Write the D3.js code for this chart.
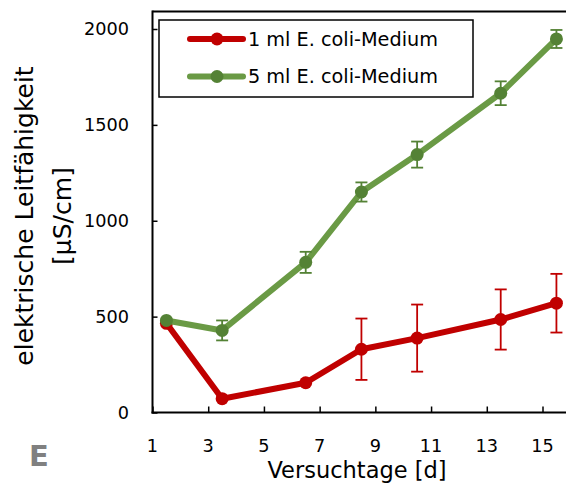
<!DOCTYPE html>
<html>
<head>
<meta charset="utf-8">
<script src="https://cdn.jsdelivr.net/npm/d3@7"></script>
<style>
  body { margin: 0; background: #fff; }
  svg { display: block; font-family: "DejaVu Sans", sans-serif; }
</style>
</head>
<body>
<svg id="chart" width="566" height="488"></svg>
<script>
// Versuchstage (days of measurement)
const days = [1.5, 3.5, 6.5, 8.5, 10.5, 13.5, 15.5];

// electrical conductivity [µS/cm], mean and standard deviation
const ml1Mean = [465, 72, 155, 330, 388, 485, 570];
const ml1Err  = [0, 0, 0, 160, 175, 157, 153];
const ml5Mean = [480, 428, 783, 1150, 1345, 1665, 1948];
const ml5Err  = [0, 52, 55, 50, 68, 62, 47];

const seriesNames = ["1 ml E. coli-Medium", "5 ml E. coli-Medium"];
const xTicks = [1, 3, 5, 7, 9, 11, 13, 15];
const yTicks = [0, 500, 1000, 1500, 2000];

const series = [
  { name: seriesNames[0], mean: ml1Mean, err: ml1Err, line: "#c00000", dot: "#c00000" },
  { name: seriesNames[1], mean: ml5Mean, err: ml5Err, line: "#6a9a45", dot: "#548235" }
];

const svg = d3.select("#chart");

const x = d3.scaleLinear().domain([1, 15]).range([152.5, 542.5]);
const y = d3.scaleLinear().domain([0, 2000]).range([412.5, 29]);

// top edge of the plot frame (runs past the right edge)
svg.append("line").attr("x1", x(1)).attr("x2", 600).attr("y1", 11.5).attr("y2", 11.5)
  .attr("stroke", "#000").attr("stroke-width", 2);

// y axis with inward ticks
const yAxis = svg.append("g")
  .attr("transform", `translate(${x(1)},0)`)
  .call(d3.axisRight(y).tickValues(yTicks).tickSize(5).tickFormat(""));
yAxis.select(".domain").remove();
yAxis.selectAll(".tick line").attr("stroke", "#000").attr("stroke-width", 1.5);
svg.append("line").attr("x1", x(1)).attr("x2", x(1)).attr("y1", 10.5).attr("y2", 413.5)
  .attr("stroke", "#000").attr("stroke-width", 2);

svg.append("g").selectAll("text").data(yTicks).join("text")
  .attr("x", 129).attr("y", d => y(d)).attr("dy", "0.36em")
  .attr("text-anchor", "end").attr("font-size", 17.7).attr("fill", "#000")
  .text(d => d);

// x axis with inward ticks
const xAxis = svg.append("g")
  .attr("transform", `translate(0,${y(0)})`)
  .call(d3.axisTop(x).tickValues(xTicks).tickSize(6).tickFormat(""));
xAxis.select(".domain").remove();
xAxis.selectAll(".tick line").attr("stroke", "#000").attr("stroke-width", 1.5);
svg.append("line").attr("x1", x(1) - 1).attr("x2", 600).attr("y1", y(0)).attr("y2", y(0))
  .attr("stroke", "#000").attr("stroke-width", 2);

svg.append("g").selectAll("text").data(xTicks).join("text")
  .attr("x", d => x(d)).attr("y", 452)
  .attr("text-anchor", "middle").attr("font-size", 17.7).attr("fill", "#000")
  .text(d => d);

// axis titles
svg.append("text").attr("x", 357).attr("y", 478)
  .attr("text-anchor", "middle").attr("font-size", 22.5).attr("fill", "#000")
  .text("Versuchtage [d]");

svg.append("text").attr("transform", "translate(33,216) rotate(-90)")
  .attr("text-anchor", "middle").attr("font-size", 25).attr("fill", "#000")
  .text("elektrische Leitfähigkeit");
svg.append("text").attr("transform", "translate(71,216) rotate(-90)")
  .attr("text-anchor", "middle").attr("font-size", 25).attr("fill", "#000")
  .text("[µS/cm]");

// panel letter
svg.append("text").attr("x", 29).attr("y", 466)
  .attr("font-size", 29).attr("font-weight", "bold").attr("fill", "#808080")
  .text("E");

// series: lines, error bars, markers
const line = d3.line().x((d, i) => x(days[i])).y(d => y(d));
const capW = 6;

series.forEach(s => {
  const g = svg.append("g");
  g.append("path").datum(s.mean).attr("d", line)
    .attr("fill", "none").attr("stroke", s.line).attr("stroke-width", 6)
    .attr("stroke-linejoin", "round");

  const eb = g.append("g").selectAll("g")
    .data(s.mean.map((m, i) => ({ x: days[i], m, e: s.err[i] })).filter(d => d.e > 0))
    .join("g").attr("stroke", s.dot).attr("stroke-width", 1.8);
  eb.append("line").attr("x1", d => x(d.x)).attr("x2", d => x(d.x))
    .attr("y1", d => y(d.m - d.e)).attr("y2", d => y(d.m + d.e));
  eb.append("line").attr("x1", d => x(d.x) - capW).attr("x2", d => x(d.x) + capW)
    .attr("y1", d => y(d.m - d.e)).attr("y2", d => y(d.m - d.e));
  eb.append("line").attr("x1", d => x(d.x) - capW).attr("x2", d => x(d.x) + capW)
    .attr("y1", d => y(d.m + d.e)).attr("y2", d => y(d.m + d.e));

  g.append("g").selectAll("circle").data(s.mean).join("circle")
    .attr("cx", (d, i) => x(days[i])).attr("cy", d => y(d)).attr("r", 6.5)
    .attr("fill", s.dot);
});

// legend
const legend = svg.append("g");
legend.append("rect").attr("x", 159).attr("y", 20).attr("width", 314).attr("height", 77)
  .attr("fill", "#fff").attr("stroke", "#000").attr("stroke-width", 1.5);
const rows = legend.selectAll("g.row").data(series).join("g")
  .attr("class", "row").attr("transform", (d, i) => `translate(0,${39 + i * 37.5})`);
rows.append("line").attr("x1", 190).attr("x2", 243).attr("y1", 0).attr("y2", 0)
  .attr("stroke", d => d.line).attr("stroke-width", 6).attr("stroke-linecap", "round");
rows.append("circle").attr("cx", 217).attr("cy", 0).attr("r", 6.5).attr("fill", d => d.dot);
rows.append("text").attr("x", 248).attr("y", 0).attr("dy", "0.36em")
  .attr("font-size", 19.25).attr("fill", "#000").text(d => d.name);
</script>
</body>
</html>
